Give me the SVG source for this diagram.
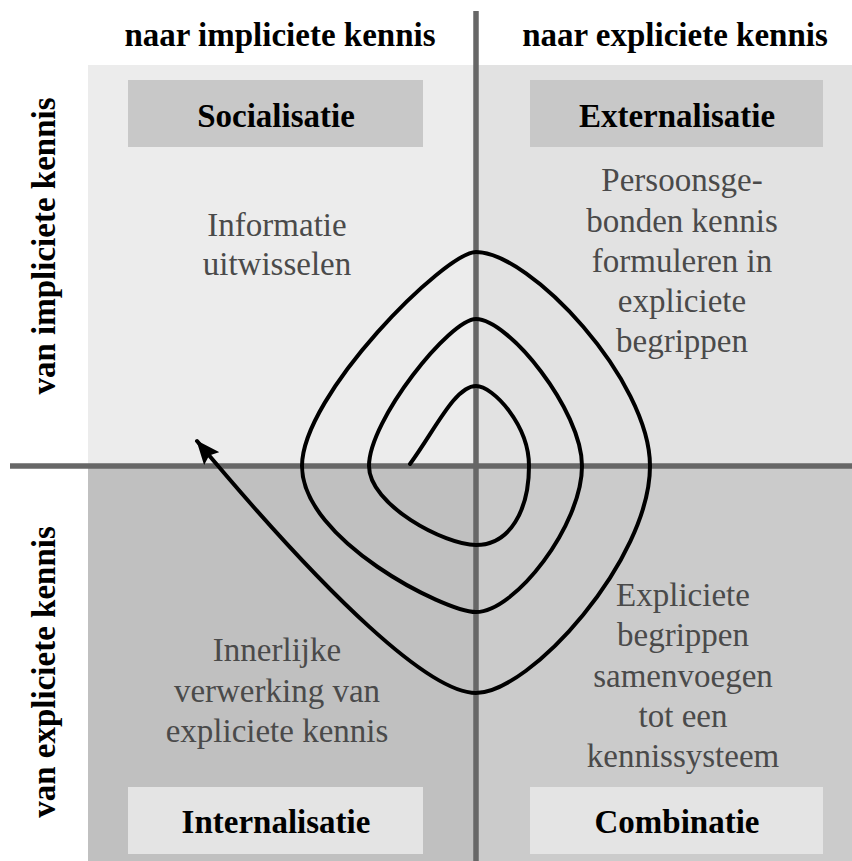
<svg xmlns="http://www.w3.org/2000/svg" width="852" height="861" viewBox="0 0 852 861">
  <style>
    .head { font-family: "Liberation Serif", "Times New Roman", serif; font-weight: bold; font-size: 33px; fill: #000; text-anchor: middle; }
    .body { font-family: "Liberation Serif", "Times New Roman", serif; font-size: 33px; fill: #4a4a4a; text-anchor: middle; }
    .axis { stroke: #676767; stroke-width: 5.5; fill: none; }
    .spiral { stroke: #000; stroke-width: 4; fill: none; stroke-linecap: round; stroke-linejoin: round; }
  </style>
  <defs>
    <marker id="arrowhead" viewBox="0 0 24 20" refX="23" refY="10" markerWidth="24" markerHeight="20" markerUnits="userSpaceOnUse" orient="auto">
      <path d="M0,0 L24,10 L0,20 L4,10 z" fill="#000"/>
    </marker>
  </defs>

  <rect x="0" y="0" width="852" height="861" fill="#fff"/>

  <!-- quadrant backgrounds -->
  <g id="quadrants">
    <rect x="88" y="65" width="388" height="401" fill="#ececec"/>
    <rect x="476" y="65" width="376" height="401" fill="#e2e2e2"/>
    <rect x="88" y="466" width="388" height="395" fill="#c0c0c0"/>
    <rect x="476" y="466" width="376" height="395" fill="#cbcbcb"/>
  </g>

  <!-- axis labels -->
  <g id="axis-labels">
    <text class="head" x="280" y="46">naar impliciete kennis</text>
    <text class="head" x="675" y="46">naar expliciete kennis</text>
    <text class="head" transform="translate(55,246) rotate(-90)">van impliciete kennis</text>
    <text class="head" transform="translate(55,672) rotate(-90)">van expliciete kennis</text>
  </g>

  <!-- quadrant nodes -->
  <g id="socialisatie">
    <rect x="128" y="80" width="295" height="67" fill="#c8c8c8"/>
    <text class="head" x="276" y="127">Socialisatie</text>
    <text class="body" x="277" y="236">Informatie</text>
    <text class="body" x="277" y="275">uitwisselen</text>
  </g>
  <g id="externalisatie">
    <rect x="530" y="80" width="293" height="67" fill="#c8c8c8"/>
    <text class="head" x="677" y="127">Externalisatie</text>
    <text class="body" x="682" y="191">Persoonsge-</text>
    <text class="body" x="682" y="232">bonden kennis</text>
    <text class="body" x="682" y="272">formuleren in</text>
    <text class="body" x="682" y="312">expliciete</text>
    <text class="body" x="682" y="352">begrippen</text>
  </g>
  <g id="internalisatie">
    <rect x="128" y="787" width="295" height="67" fill="#e4e4e4"/>
    <text class="head" x="276" y="833">Internalisatie</text>
    <text class="body" x="277" y="661">Innerlijke</text>
    <text class="body" x="277" y="702">verwerking van</text>
    <text class="body" x="277" y="742">expliciete kennis</text>
  </g>
  <g id="combinatie">
    <rect x="530" y="787" width="293" height="67" fill="#e4e4e4"/>
    <text class="head" x="677" y="833">Combinatie</text>
    <text class="body" x="683" y="606">Expliciete</text>
    <text class="body" x="683" y="646">begrippen</text>
    <text class="body" x="683" y="687">samenvoegen</text>
    <text class="body" x="683" y="727">tot een</text>
    <text class="body" x="683" y="767">kennissysteem</text>
  </g>

  <!-- axes -->
  <g id="axes">
    <line class="axis" x1="476" y1="11" x2="476" y2="861"/>
    <line class="axis" x1="10" y1="466" x2="852" y2="466"/>
  </g>

  <!-- knowledge spiral -->
  <g id="connectors">
    <path class="spiral" marker-end="url(#arrowhead)" d="M 410 464
      C 435 430, 455 386, 476 386
      C 493 386, 529 425, 529 466
      C 529 510, 510 545, 476 545
      C 445 545, 369 505, 369 466
      C 369 420, 450 319, 476 319
      C 508 319, 582 410, 582 466
      C 582 525, 515 612, 476 612
      C 445 612, 302 540, 302 466
      C 302 395, 445 252, 476 252
      C 530 252, 650 380, 650 466
      C 650 560, 530 693, 476 693
      C 430 693, 330 600, 197 441"/>
  </g>
</svg>
